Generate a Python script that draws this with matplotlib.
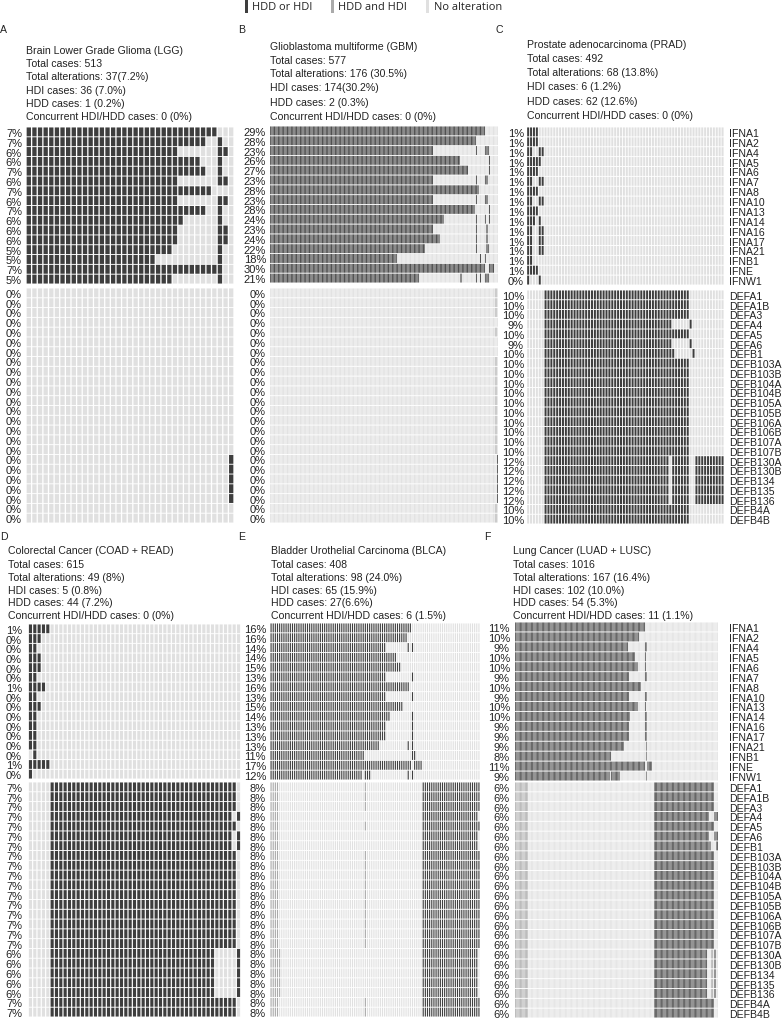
import numpy as np
import matplotlib
matplotlib.use("Agg")
import matplotlib.pyplot as plt
from matplotlib.colors import ListedColormap
from matplotlib.patches import Rectangle

plt.rcParams['font.family'] = ['Liberation Sans', 'DejaVu Sans']

W, H = 782, 1020

TOP_GENES = ["IFNA1", "IFNA2", "IFNA4", "IFNA5", "IFNA6", "IFNA7", "IFNA8", "IFNA10",
             "IFNA13", "IFNA14", "IFNA16", "IFNA17", "IFNA21", "IFNB1", "IFNE", "IFNW1"]
LOW_GENES = ["DEFA1", "DEFA1B", "DEFA3", "DEFA4", "DEFA5", "DEFA6", "DEFB1", "DEFB103A",
             "DEFB103B", "DEFB104A", "DEFB104B", "DEFB105A", "DEFB105B", "DEFB106A",
             "DEFB106B", "DEFB107A", "DEFB107B", "DEFB130A", "DEFB130B", "DEFB134",
             "DEFB135", "DEFB136", "DEFB4A", "DEFB4B"]

# ---- Panel A: LGG
LGG_TITLE = ["Brain Lower Grade Glioma (LGG)", "Total cases: 513", "Total alterations: 37(7.2%)",
             "HDI cases: 36 (7.0%)", "HDD cases: 1 (0.2%)", "Concurrent HDI/HDD cases: 0 (0%)"]
LGG_CASES = 37
LGG_TOP_PCT = [7, 7, 6, 6, 7, 6, 7, 6, 7, 6, 6, 6, 5, 5, 7, 5]
LGG_LOW_PCT = [0] * 24
LGG_TOP = [[(0, 34)], [(0, 32), (34, 35)], [(0, 27), (34, 36)], [(0, 31), (34, 35)],
           [(0, 32), (34, 35)], [(0, 27), (34, 36)], [(0, 33)], [(0, 27), (34, 36)],
           [(0, 32), (34, 35)], [(0, 28), (34, 35)], [(0, 27), (34, 36)], [(0, 27), (34, 36)],
           [(0, 26), (34, 35)], [(0, 23), (34, 35)], [(0, 34), (34, 35)], [(0, 26), (34, 35)]]
LGG_LOW = [[]] * 17 + [[(36, 37)]] * 5 + [[]] * 2
LGG_BOTH_LOW = [[]] * 24

# ---- Panel B: GBM
GBM_TITLE = ["Glioblastoma multiforme (GBM)", "Total cases: 577", "Total alterations: 176 (30.5%)",
             "HDI cases: 174(30.2%)", "HDD cases: 2 (0.3%)", "Concurrent HDI/HDD cases: 0 (0%)"]
GBM_CASES = 176
GBM_TOP_PCT = [29, 28, 23, 26, 27, 23, 28, 23, 28, 24, 23, 24, 22, 18, 30, 21]
GBM_LOW_PCT = [0] * 24
GBM_TOP = [[(0, 166)], [(0, 159)], [(0, 126), (159, 160), (166, 169)], [(0, 147), (169, 170)],
           [(0, 153), (169, 170)], [(0, 126), (159, 160), (166, 168)], [(0, 161)],
           [(0, 126), (159, 160), (166, 168)], [(0, 158), (169, 170)],
           [(0, 134), (159, 160), (166, 167), (169, 170)], [(0, 126), (159, 160), (167, 168)],
           [(0, 131), (159, 160), (167, 168)], [(0, 120), (159, 160), (167, 169)],
           [(0, 98), (162, 163), (166, 167)], [(0, 166), (169, 173)],
           [(0, 115), (147, 148), (159, 160), (162, 163), (166, 169)]]
GBM_LOW = [[]] * 17 + [[(175, 176)]] * 5 + [[]] * 2
GBM_BOTH_LOW = [[(174, 175)]] * 3 + [[]] + [[(174, 175)]] + [[]] * 2 + [[(174, 175)]] * 10 + [[]] * 5 + [[(174, 175)]] * 2

# ---- Panel C: PRAD
PRAD_TITLE = ["Prostate adenocarcinoma (PRAD)", "Total cases: 492", "Total alterations: 68 (13.8%)",
              "HDI cases: 6 (1.2%)", "HDD cases: 62 (12.6%)", "Concurrent HDI/HDD cases: 0 (0%)"]
PRAD_CASES = 68
PRAD_TOP_PCT = [1] * 15 + [0]
PRAD_LOW_PCT = [10, 10, 10, 9, 10, 9, 10, 10, 10, 10, 10, 10, 10, 10, 10, 10, 10, 12, 12, 12, 12, 12, 10, 10]
PRAD_TOP = [[(0, 4)], [(0, 4)], [(0, 2), (4, 6)], [(0, 5)], [(0, 4)], [(0, 2), (4, 6)], [(0, 4)],
            [(0, 2), (4, 6)], [(0, 4)], [(0, 3), (4, 5)], [(0, 2), (4, 6)], [(0, 2), (4, 6)],
            [(0, 2), (4, 6)], [(0, 2)], [(0, 4)], [(0, 1), (4, 5)]]
PRAD_LOW = [[(6, 56)]] * 3 + [[(6, 50), (56, 57)]] + [[(6, 56)]] + [[(6, 50), (56, 57)]] + \
           [[(6, 51), (57, 58)]] + [[(6, 56)]] * 10 + [[(6, 49), (50, 56), (58, 68)]] * 5 + [[(6, 56)]] * 2
PRAD_BOTH_LOW = [[]] * 24

# ---- Panel D: COAD + READ
CRC_TITLE = ["Colorectal Cancer (COAD + READ)", "Total cases: 615", "Total alterations: 49 (8%)",
             "HDI cases: 5 (0.8%)", "HDD cases: 44 (7.2%)", "Concurrent HDI/HDD cases: 0 (0%)"]
CRC_CASES = 49
CRC_TOP_PCT = [1, 0, 0, 0, 0, 0, 1, 0, 0, 0, 0, 0, 0, 0, 1, 0]
CRC_LOW_PCT = [7] * 17 + [6] * 5 + [7, 7]
CRC_TOP = [[(0, 5)], [(0, 3)], [(0, 2)], [(0, 3)], [(0, 3)], [(0, 2)], [(0, 4)], [(0, 2)], [(0, 3)],
           [(0, 2)], [(0, 2)], [(0, 2)], [(0, 2)], [(1, 2)], [(0, 5)], [(0, 1)]]
CRC_LOW = [[(5, 48)]] * 3 + [[(5, 47), (48, 49)]] + [[(5, 48)]] + [[(5, 47), (48, 49)]] * 2 + \
          [[(5, 48)]] * 10 + [[(5, 43), (48, 49)]] * 5 + [[(5, 48)]] * 2
CRC_BOTH_LOW = [[]] * 24

# ---- Panel E: BLCA
BLCA_TITLE = ["Bladder Urothelial Carcinoma (BLCA)", "Total cases: 408", "Total alterations: 98 (24.0%)",
              "HDI cases: 65 (15.9%)", "HDD cases: 27(6.6%)", "Concurrent HDI/HDD cases: 6 (1.5%)"]
BLCA_CASES = 98
BLCA_TOP_PCT = [16, 16, 14, 14, 15, 13, 16, 13, 15, 14, 13, 13, 13, 11, 17, 12]
BLCA_LOW_PCT = [8] * 24
BLCA_TOP = [[(0, 66)], [(0, 64)], [(0, 54), (64, 65), (66, 67)], [(0, 59)], [(0, 61)], [(0, 54), (66, 67)],
            [(0, 65)], [(0, 54), (66, 67)], [(0, 62)], [(0, 56), (66, 67)], [(0, 54), (66, 67)],
            [(0, 54), (66, 67)], [(0, 51), (64, 65), (66, 67)], [(0, 44), (66, 68)], [(0, 66), (67, 71)],
            [(0, 43), (44, 47), (64, 65), (66, 67)]]
BLCA_LOW = [[(71, 98)]] * 3 + [[(71, 97)]] + [[(71, 98)]] + [[(71, 97)]] * 2 + [[(71, 98)]] * 10 + \
           [[(71, 97)]] * 5 + [[(71, 98)]] * 2
BLCA_BOTH_LOW = [[(0, 4), (44, 45)]] * 3 + [[(0, 4)]] + [[(0, 4), (44, 45)]] + [[(0, 4)]] * 2 + \
                [[(0, 4), (44, 45)]] * 10 + [[(0, 5)]] * 5 + [[(0, 4), (44, 45)]] * 2

# ---- Panel F: LUAD + LUSC
LUNG_TITLE = ["Lung Cancer (LUAD + LUSC)", "Total cases: 1016", "Total alterations: 167 (16.4%)",
              "HDI cases: 102 (10.0%)", "HDD cases: 54 (5.3%)", "Concurrent HDI/HDD cases: 11 (1.1%)"]
LUNG_CASES = 167
LUNG_TOP_PCT = [11, 10, 9, 10, 10, 9, 10, 9, 10, 10, 9, 9, 9, 8, 11, 9]
LUNG_LOW_PCT = [6] * 24
LUNG_TOP = [[(0, 107)], [(0, 102)], [(0, 93), (107, 109)], [(0, 99), (107, 108)], [(0, 101), (107, 108)],
            [(0, 94), (107, 109)], [(0, 104)], [(0, 94), (107, 109)], [(0, 101), (107, 108)],
            [(0, 95), (107, 109)], [(0, 94), (107, 109)], [(0, 94), (107, 109)], [(0, 90), (108, 109)],
            [(0, 79), (108, 109)], [(0, 107), (109, 113)], [(0, 78), (79, 86), (108, 109)]]
LUNG_LOW = [[(114, 164)]] * 3 + [[(114, 160), (164, 167)]] + [[(114, 164)]] + [[(114, 160), (164, 167)]] + \
           [[(114, 161), (165, 167)]] + [[(114, 164)]] * 10 + [[(114, 158), (164, 165)]] * 5 + [[(114, 164)]] * 2
LUNG_BOTH_LOW = [[(0, 11)]] * 17 + [[(0, 11), (161, 163)]] * 5 + [[(0, 11)]] * 2

COLORS = ["#e0e0e0", "#3e3e3e", "#aaaaaa"]
CMAP = ListedColormap(COLORS)
PX = 72 / 100  # points per pixel at dpi 100
TEXT = "#222222"
FS = 7.6
PCT_FS = 8.0


def grid(runs, n_cases, both=None):
    g = np.zeros((len(runs), n_cases))
    for r, row in enumerate(runs):
        for a, b in row:
            g[r, a:b] = 1
    if both is not None:
        for r, row in enumerate(both):
            for a, b in row:
                g[r, a:b] = 2
    return g


def add_axes(x0, x1, y0, y1):
    ax = fig.add_axes([x0 / W, 1 - y1 / H, (x1 - x0) / W, (y1 - y0) / H])
    ax.set_axis_off()
    return ax


def draw_block(x0, x1, y0, y1, runs, both, n_cases, col_gap):
    ax = add_axes(x0, x1, y0, y1)
    g = grid(runs, n_cases, both)
    ax.pcolormesh(np.arange(n_cases + 1), np.arange(g.shape[0] + 1), g, cmap=CMAP, vmin=0, vmax=2)
    ax.set_xlim(0, n_cases)
    ax.set_ylim(g.shape[0], 0)
    v = ax.vlines(np.arange(n_cases + 1), 0, g.shape[0], color="white", lw=col_gap * PX)
    h = ax.hlines(np.arange(g.shape[0] + 1), 0, n_cases, color="white", lw=0.9 * PX)
    v.set_snap(False)
    h.set_snap(False)


def row_labels(values, x, y0, y1, ha, fmt="{}", fs=FS):
    pitch = (y1 - y0) / len(values)
    for i, v in enumerate(values):
        fig.text(x / W, 1 - (y0 + (i + 0.5) * pitch) / H, fmt.format(v), ha=ha, va="center_baseline",
                 fontsize=fs, color=TEXT)


def panel(letter, lx, ly, title, tx, tys, cases, top, top_pct, low, low_pct, both, xs, top_y, low_y, pct_x, gap,
          genes_x=None):
    fig.text(lx / W, 1 - ly / H, letter, fontsize=FS, color=TEXT, va="center")
    for line, y in zip(title, tys):
        fig.text(tx / W, 1 - y / H, line, fontsize=FS, color=TEXT, va="center")
    draw_block(xs[0], xs[1], top_y[0], top_y[1], top, None, cases, gap)
    draw_block(xs[0], xs[1], low_y[0], low_y[1], low, both, cases, gap)
    row_labels(top_pct, pct_x, top_y[0], top_y[1], "right", "{}%", PCT_FS)
    row_labels(low_pct, pct_x, low_y[0], low_y[1], "right", "{}%", PCT_FS)
    if genes_x is not None:
        row_labels(TOP_GENES, genes_x, top_y[0], top_y[1], "left")
        row_labels(LOW_GENES, genes_x, low_y[0], low_y[1], "left")


fig = plt.figure(figsize=(W / 100, H / 100), dpi=100, facecolor="white")

panel("A", 0, 30, LGG_TITLE, 26, [50.5, 64, 77, 90.5, 104, 117], LGG_CASES, LGG_TOP, LGG_TOP_PCT,
      LGG_LOW, LGG_LOW_PCT, LGG_BOTH_LOW, (26, 234), (128, 285), (289, 524), 22, 1.3)
panel("B", 238, 30, GBM_TITLE, 270, [47, 61, 74, 88, 103, 117], GBM_CASES, GBM_TOP, GBM_TOP_PCT,
      GBM_LOW, GBM_LOW_PCT, GBM_BOTH_LOW, (270, 498), (127, 284), (289, 524), 266, 0.4)
panel("C", 496, 30, PRAD_TITLE, 527, [45, 59, 73, 87, 102, 116], PRAD_CASES, PRAD_TOP, PRAD_TOP_PCT,
      PRAD_LOW, PRAD_LOW_PCT, PRAD_BOTH_LOW, (526.7, 724), (128, 286), (291, 525), 524, 0.9, 729)
panel("D", 0, 537, CRC_TITLE, 8, [551, 565, 578, 591, 603, 616], CRC_CASES, CRC_TOP, CRC_TOP_PCT,
      CRC_LOW, CRC_LOW_PCT, CRC_BOTH_LOW, (28.3, 240.7), (625, 780), (783, 1018), 22, 1.2)
panel("E", 238, 537, BLCA_TITLE, 271, [551, 565, 578, 591, 603, 616], BLCA_CASES, BLCA_TOP, BLCA_TOP_PCT,
      BLCA_LOW, BLCA_LOW_PCT, BLCA_BOTH_LOW, (270, 480), (624, 781), (783, 1018), 266, 1.0)
panel("F", 484, 537, LUNG_TITLE, 513, [551, 565, 578, 591, 603, 616], LUNG_CASES, LUNG_TOP, LUNG_TOP_PCT,
      LUNG_LOW, LUNG_LOW_PCT, LUNG_BOTH_LOW, (515, 718), (623, 782), (783, 1019), 510, 0.45, 729)

# legend
LEGEND_LABELS = ["HDD or HDI", "HDD and HDI", "No alteration"]
for label, color, bx, tx in zip(LEGEND_LABELS, COLORS[1:] + COLORS[:1], (245, 331, 426), (252, 338, 434)):
    fig.add_artist(Rectangle((bx / W, 1 - 14 / H), 2.6 / W, 14 / H, transform=fig.transFigure,
                             facecolor=color, edgecolor="none"))
    fig.text(tx / W, 1 - 8 / H, label, fontsize=7.9, family="Open Sans", color=TEXT, va="center")

fig.savefig("out.png", dpi=100)
